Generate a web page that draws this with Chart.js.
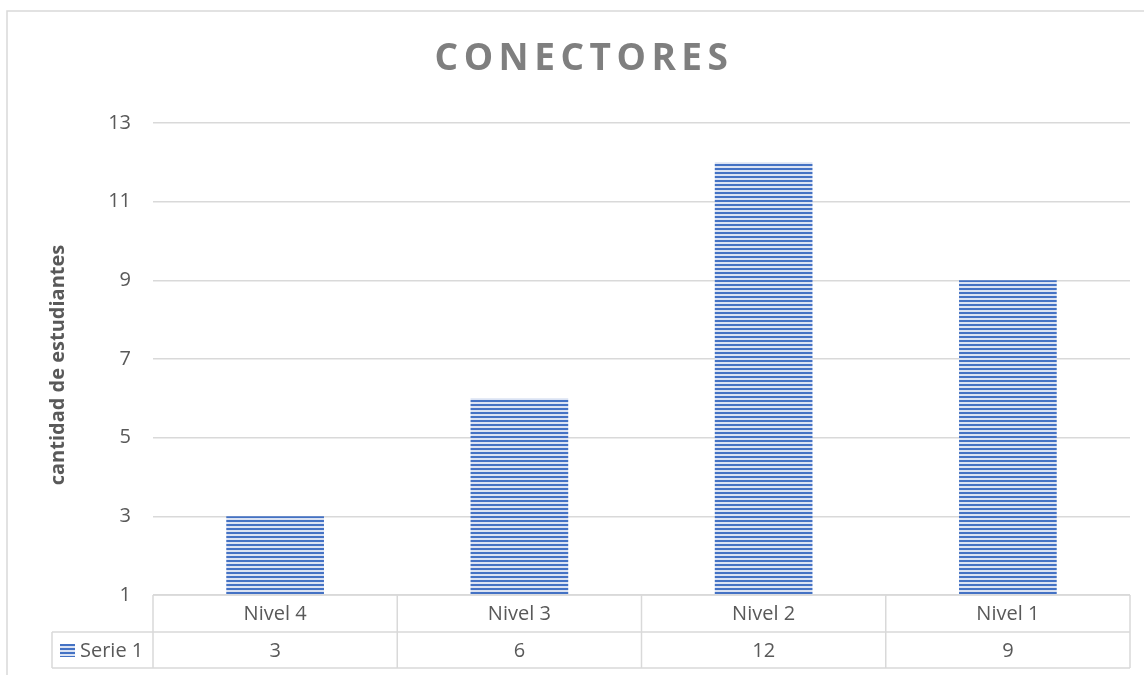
<!DOCTYPE html>
<html>
<head>
<meta charset="utf-8">
<script src="https://cdn.jsdelivr.net/npm/chart.js@4.4.0/dist/chart.umd.min.js"></script>
<style>
html,body{margin:0;padding:0;background:#fff;}
#wrap{width:1144px;height:675px;position:relative;}
</style>
</head>
<body>
<div id="wrap"><canvas id="c" width="1144" height="675"></canvas></div>
<script>
const chartTitle = "CONECTORES";
const yAxisTitle = "cantidad de estudiantes";
const categories = ["Nivel 4", "Nivel 3", "Nivel 2", "Nivel 1"];
const seriesName = "Serie 1";
const serie1 = [3, 6, 12, 9];
const yMin = 1, yMax = 13, yStep = 2;

const FONT = "'Open Sans', 'Noto Sans', sans-serif";
const GRID = "#d9d9d9";
const TXT = "#595959";

function makePattern() {
  const p = document.createElement('canvas');
  p.width = 8; p.height = 4;
  const g = p.getContext('2d');
  g.fillStyle = '#dbe3f3'; g.fillRect(0, 0, 8, 4);
  g.fillStyle = '#4472c4'; g.fillRect(0, 0, 8, 2);
  return document.getElementById('c').getContext('2d').createPattern(p, 'repeat');
}
const pattern = makePattern();

const decor = {
  id: 'decor',
  afterDraw(chart) {
    const ctx = chart.ctx;
    const ca = chart.chartArea;
    const xs = chart.scales.x;
    ctx.save();
    // outer border
    ctx.strokeStyle = GRID; ctx.lineWidth = 1.5;
    ctx.beginPath();
    ctx.moveTo(7, 675); ctx.lineTo(7, 11); ctx.lineTo(1144, 11);
    ctx.stroke();

    // title
    ctx.fillStyle = '#7f7f7f';
    ctx.font = "bold 37px " + FONT;
    ctx.letterSpacing = '5.5px';
    ctx.textAlign = 'center'; ctx.textBaseline = 'middle';
    ctx.fillText(chartTitle, 584, 59);
    ctx.letterSpacing = '0px';

    // y axis title
    ctx.save();
    ctx.translate(58, 365);
    ctx.rotate(-Math.PI / 2);
    ctx.font = "bold 20px " + FONT;
    ctx.fillStyle = TXT;
    ctx.fillText(yAxisTitle, 0, 0);
    ctx.restore();

    // data table
    const n = categories.length;
    const colW = (ca.right - ca.left) / n;
    const top = ca.bottom, mid = ca.bottom + 37, bot = ca.bottom + 73;
    ctx.strokeStyle = GRID; ctx.lineWidth = 1.5;
    ctx.beginPath();
    ctx.moveTo(ca.left, top); ctx.lineTo(ca.right, top);
    ctx.moveTo(52, mid); ctx.lineTo(ca.right, mid);
    ctx.moveTo(52, bot); ctx.lineTo(ca.right, bot);
    ctx.moveTo(52, mid); ctx.lineTo(52, bot);
    for (let i = 0; i <= n; i++) {
      const x = ca.left + i * colW;
      ctx.moveTo(x, top); ctx.lineTo(x, bot);
    }
    ctx.stroke();

    ctx.font = "20px " + FONT;
    ctx.fillStyle = TXT;
    ctx.textAlign = 'center'; ctx.textBaseline = 'middle';
    for (let i = 0; i < n; i++) {
      const cx = xs.getPixelForValue(i);
      ctx.fillText(categories[i], cx, (top + mid) / 2 + 1);
      ctx.fillText(String(serie1[i]), cx, (mid + bot) / 2 + 1);
    }
    // legend key
    ctx.fillStyle = pattern;
    ctx.fillRect(60, 644, 15, 13);
    ctx.fillStyle = TXT;
    ctx.textAlign = 'left';
    ctx.fillText(seriesName, 80, (mid + bot) / 2 + 1);
    ctx.restore();
  }
};

new Chart(document.getElementById('c'), {
  type: 'bar',
  data: {
    labels: categories,
    datasets: [{
      label: seriesName,
      data: serie1,
      backgroundColor: pattern,
      borderWidth: 0,
      barPercentage: 0.4,
      categoryPercentage: 1.0
    }]
  },
  options: {
    responsive: false,
    animation: false,
    devicePixelRatio: 1,
    layout: { padding: { left: 0, right: 14, top: 123, bottom: 80 } },
    plugins: { legend: { display: false }, title: { display: false }, tooltip: { enabled: false } },
    scales: {
      x: { display: false },
      y: {
        min: yMin, max: yMax,
        afterFit(scale) { scale.width = 153; },
        ticks: { stepSize: yStep, color: TXT, font: { family: FONT, size: 20 }, padding: 22 },
        grid: { color: GRID, lineWidth: 1.5, drawTicks: false },
        border: { display: false }
      }
    }
  },
  plugins: [decor]
});
</script>
</body>
</html>
